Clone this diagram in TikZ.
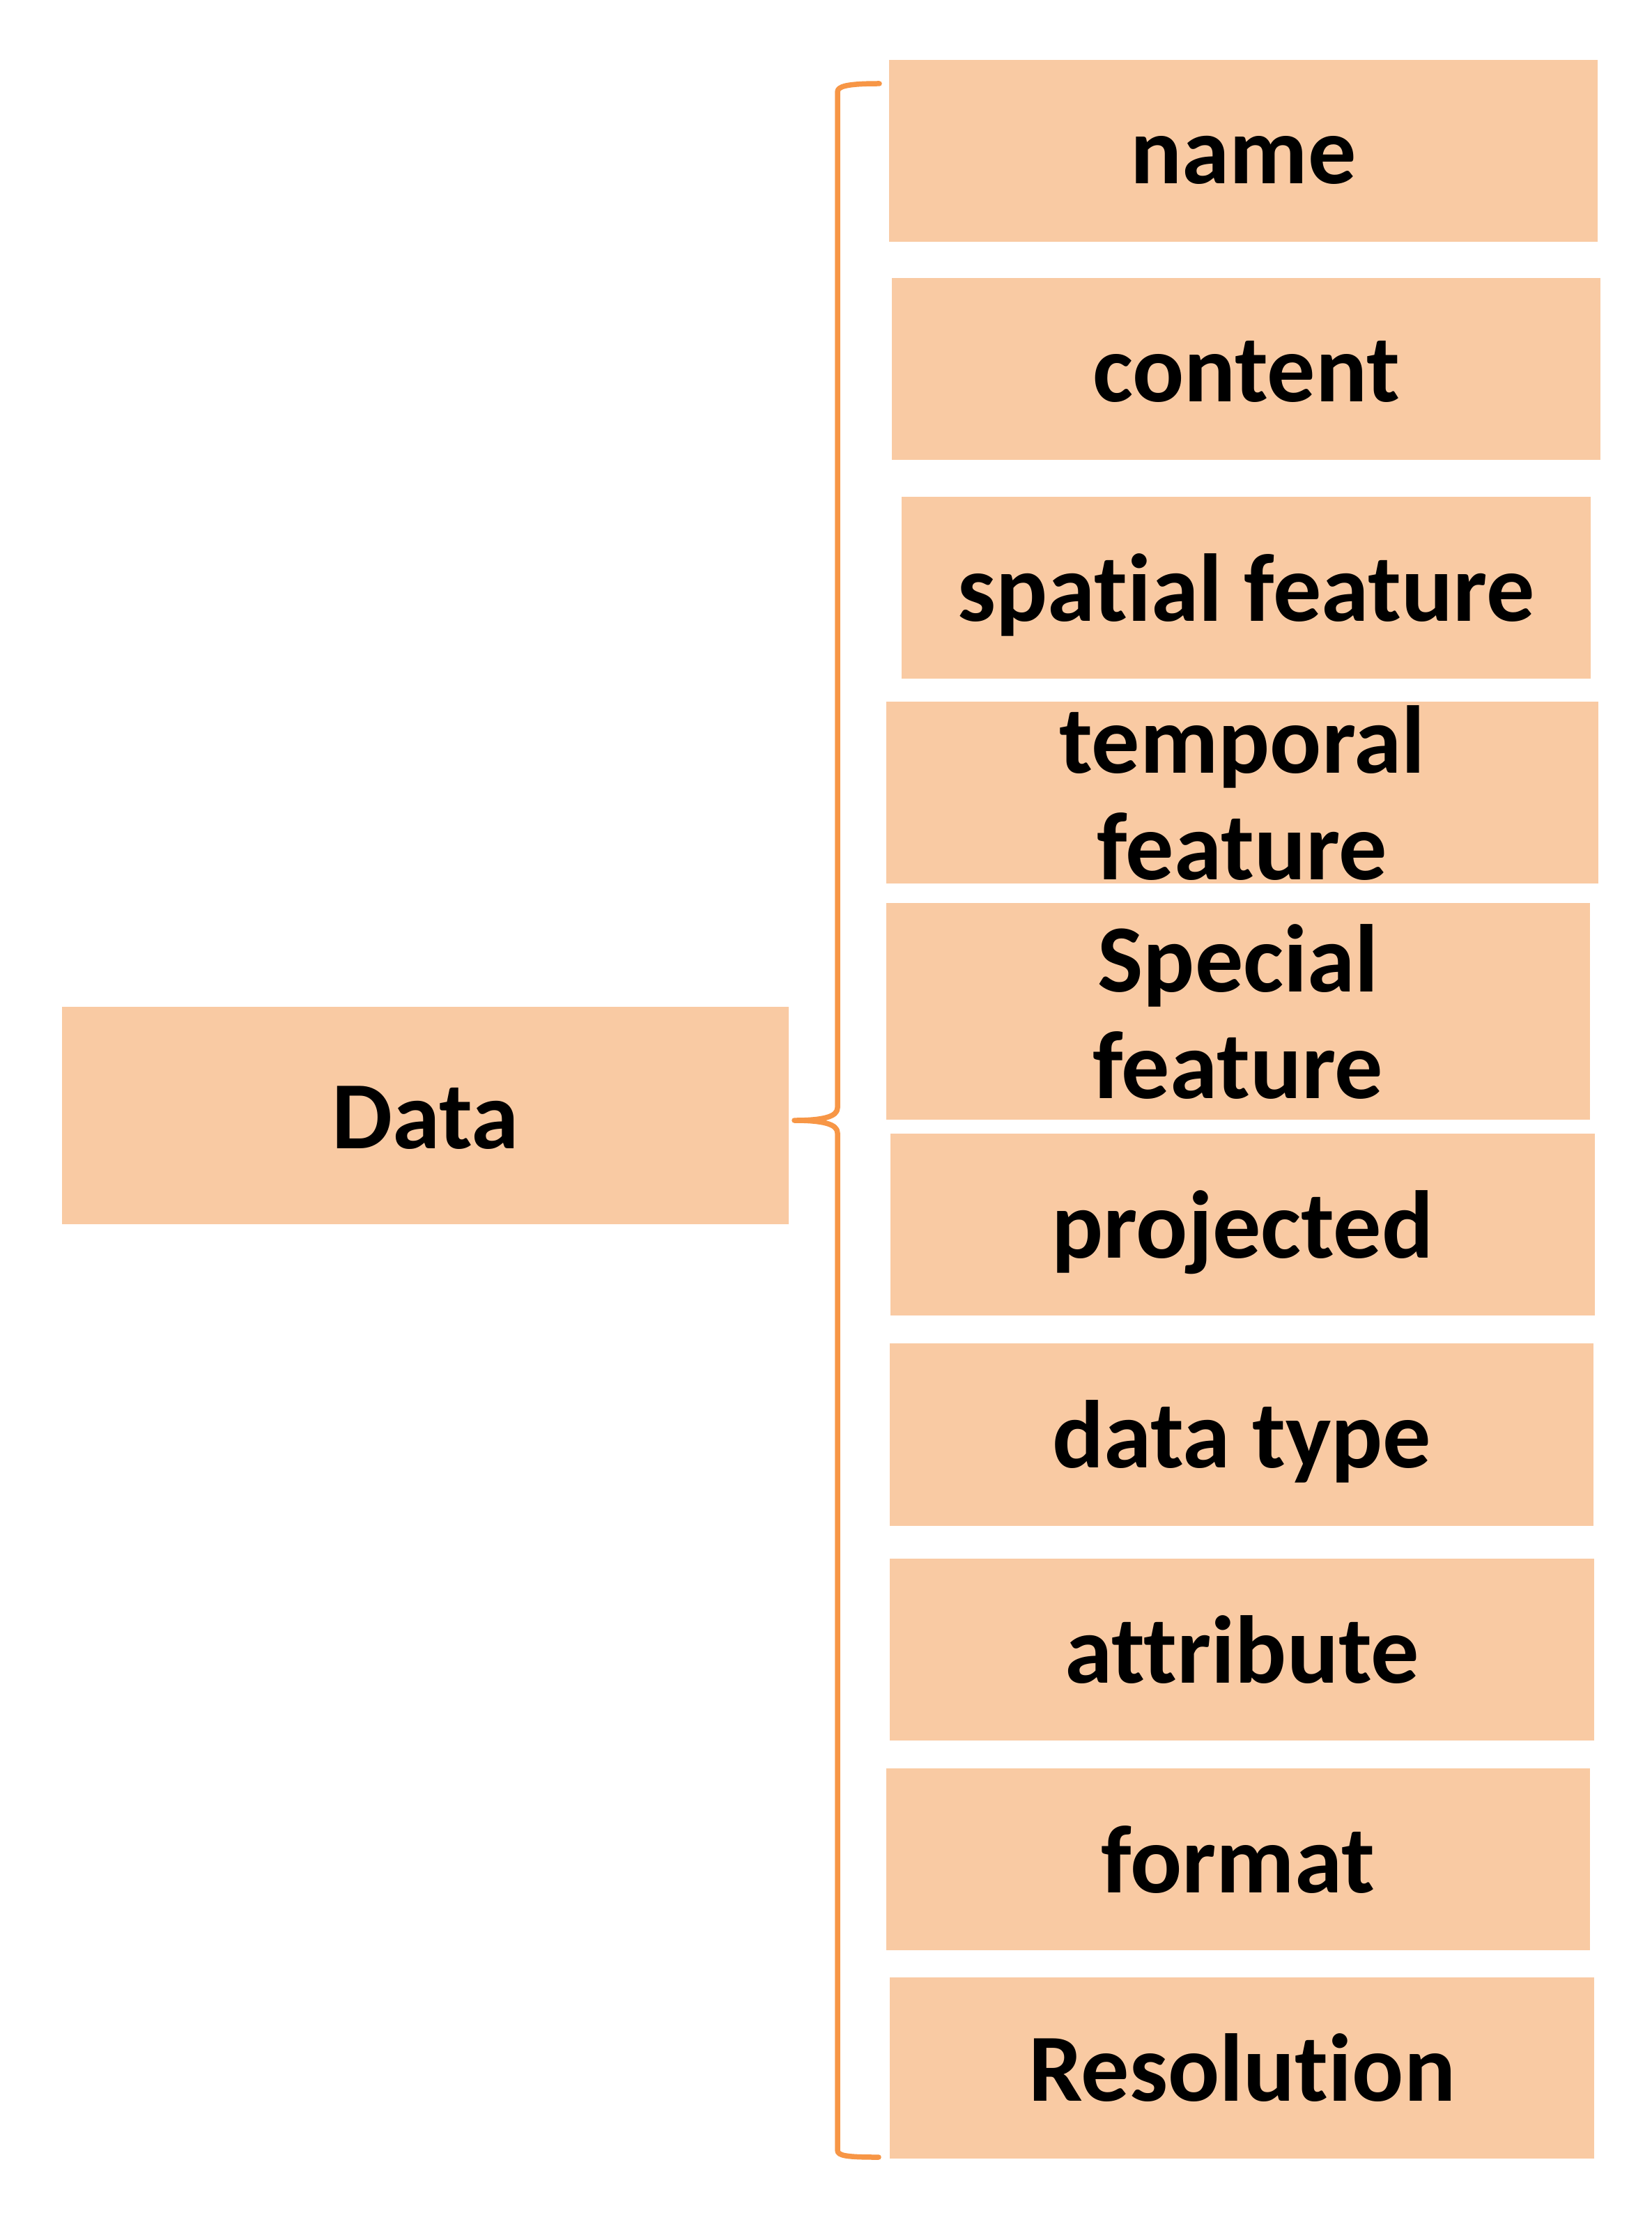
\documentclass[tikz,border=0pt]{standalone}
\usepackage{fontspec}
\setmainfont{Carlito}[Ligatures=NoCommon]
\definecolor{boxfill}{HTML}{F9CAA3}
\definecolor{braceorange}{HTML}{F79646}
\tikzset{
  item/.style={rectangle, fill=boxfill, draw=none, inner sep=0pt, outer sep=0pt,
    font=\fontsize{39.3pt}{43.5pt}\selectfont\bfseries, text=black,
    text height=0.95cm, text depth=0cm, align=center},
  twoline/.style={text height=2.5cm, text depth=0cm},
  bracestyle/.style={draw=braceorange, line width=0.075cm, line cap=round, line join=round}
}
\newcommand{\twolines}[2]{\vbox{\baselineskip=1.53cm\hbox to 9.8cm{\hss #1\hss}\hbox to 9.8cm{\hss #2\hss}}}
\begin{document}
\begin{tikzpicture}
\useasboundingbox (0,0) rectangle (23.71,-31.79);
\fill[white] (0,0) rectangle (23.71,-31.79);

\node[item, minimum width=10.17cm, minimum height=2.61cm] (name) at (17.845,-2.165) {name};
\node[item, minimum width=10.17cm, minimum height=2.61cm] (content) at (17.885,-5.295) {content};
\node[item, minimum width=9.89cm, minimum height=2.61cm] (spatial) at (17.885,-8.435) {spatial feature};
\node[item, twoline, minimum width=10.22cm, minimum height=2.61cm] (temporal) at (17.83,-11.375) {\twolines{temporal}{feature}};
\node[item, twoline, minimum width=10.10cm, minimum height=3.11cm] (special) at (17.77,-14.515) {\twolines{Special}{feature}};
\node[item, minimum width=10.11cm, minimum height=2.61cm] (projected) at (17.835,-17.575) {projected};
\node[item, minimum width=10.10cm, minimum height=2.62cm] (datatype) at (17.82,-20.59) {data type};
\node[item, minimum width=10.11cm, minimum height=2.61cm] (attribute) at (17.825,-23.675) {attribute};
\node[item, minimum width=10.10cm, minimum height=2.61cm] (format) at (17.77,-26.685) {format};
\node[item, minimum width=10.11cm, minimum height=2.60cm] (resolution) at (17.825,-29.68) {Resolution};

\node[item, minimum width=10.43cm, minimum height=3.12cm] (data) at (6.105,-16.01) {Data};

\coordinate (btop) at (12.62,-1.20);
\coordinate (bbot) at (12.61,-30.96);
\coordinate (tip) at ([shift={(0.08,-0.07)}]data.east);

\draw[bracestyle] (btop) .. controls (12.15,-1.20) and (12.02,-1.24) .. (12.02,-1.32)
  -- (12.02,-15.90) .. controls (12.02,-16.03) and (11.80,-16.08) .. (tip)
  .. controls (11.80,-16.08) and (12.02,-16.13) .. (12.02,-16.26)
  -- (12.02,-30.86) .. controls (12.02,-30.94) and (12.15,-30.96) .. (bbot);
\end{tikzpicture}
\end{document}
